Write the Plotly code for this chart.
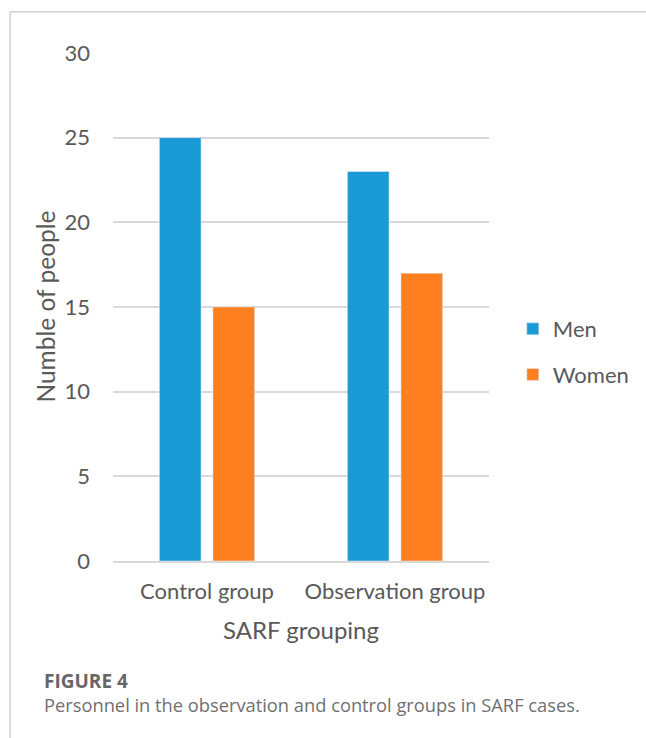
import plotly.graph_objects as go

# Groups on the x axis and head counts per sex
groups = ["Control group", "Observation group"]
men = [25, 23]
women = [15, 17]
y_ticks = [0, 5, 10, 15, 20, 25, 30]

BLUE = "#1a9bd6"
ORANGE = "#fe7f1f"
TEXT = "#595959"
GRID = "#d9d9d9"
CHART_FONT = "Lato"

fig = go.Figure()
fig.add_trace(go.Bar(name="Men", x=groups, y=men, marker_color=BLUE,
                     legendgroup="m"))
fig.add_trace(go.Bar(name="Women", x=groups, y=women, marker_color=ORANGE,
                     legendgroup="w"))

# plot area geometry in pixels (used to place frame and caption)
W, H = 646, 738
L, R, T, B = 113, 154, 53, 177
pw, ph = W - L - R, H - T - B


def px_x(x):
    return (x - L) / pw


def px_y(y):
    return (H - B - y) / ph


fig.update_layout(
    width=W, height=H,
    margin=dict(l=L, r=R, t=T, b=B, pad=0),
    paper_bgcolor="white", plot_bgcolor="white",
    barmode="group", bargap=0.43, bargroupgap=0.222,
    font=dict(family=CHART_FONT, color=TEXT, size=22),
    showlegend=True,
    legend=dict(x=px_x(516), y=px_y(308), xanchor="left", yanchor="top",
                font=dict(size=22, color=TEXT), tracegroupgap=14,
                traceorder="grouped", bgcolor="rgba(0,0,0,0)"),
    xaxis=dict(showgrid=False, showline=True, linecolor=GRID, linewidth=2,
               ticks="", ticklabelstandoff=10,
               tickfont=dict(size=22, color=TEXT),
               title=dict(text="SARF grouping", font=dict(size=24, color=TEXT),
                          standoff=19)),
    yaxis=dict(range=[0, 30], tickvals=y_ticks, showgrid=True, gridcolor=GRID,
               gridwidth=1.5, zeroline=False, showline=False, ticks="",
               ticklabelstandoff=22,
               tickfont=dict(size=22, color=TEXT)),
)

# y axis title, placed close to the tick labels
fig.add_annotation(text="Numble of people", xref="paper", yref="paper",
                   x=px_x(44), y=px_y(307), xanchor="center", yanchor="middle",
                   textangle=-90, showarrow=False,
                   font=dict(family=CHART_FONT, size=24.5, color=TEXT))

# frame lines along the top and left edges
fig.add_shape(type="line", xref="paper", yref="paper",
              x0=px_x(9.3), x1=px_x(W + 5), y0=px_y(11.7), y1=px_y(11.7),
              line=dict(color="#d0d0d0", width=1.5))
fig.add_shape(type="line", xref="paper", yref="paper",
              x0=px_x(9.3), x1=px_x(9.3), y0=px_y(11.7), y1=px_y(H + 5),
              line=dict(color="#d0d0d0", width=1.5))

# figure caption
fig.add_annotation(text="<b>FIGURE 4</b>", xref="paper", yref="paper",
                   x=px_x(41), y=px_y(681), xanchor="left", yanchor="middle",
                   showarrow=False,
                   font=dict(family="Open Sans", size=19, color="#666666"))
fig.add_annotation(text="Personnel in the observation and control groups in SARF cases.",
                   xref="paper", yref="paper",
                   x=px_x(41), y=px_y(704), xanchor="left", yanchor="middle",
                   showarrow=False,
                   font=dict(family="Open Sans", size=18.3, color="#707070"))

fig.write_html("out.html")
